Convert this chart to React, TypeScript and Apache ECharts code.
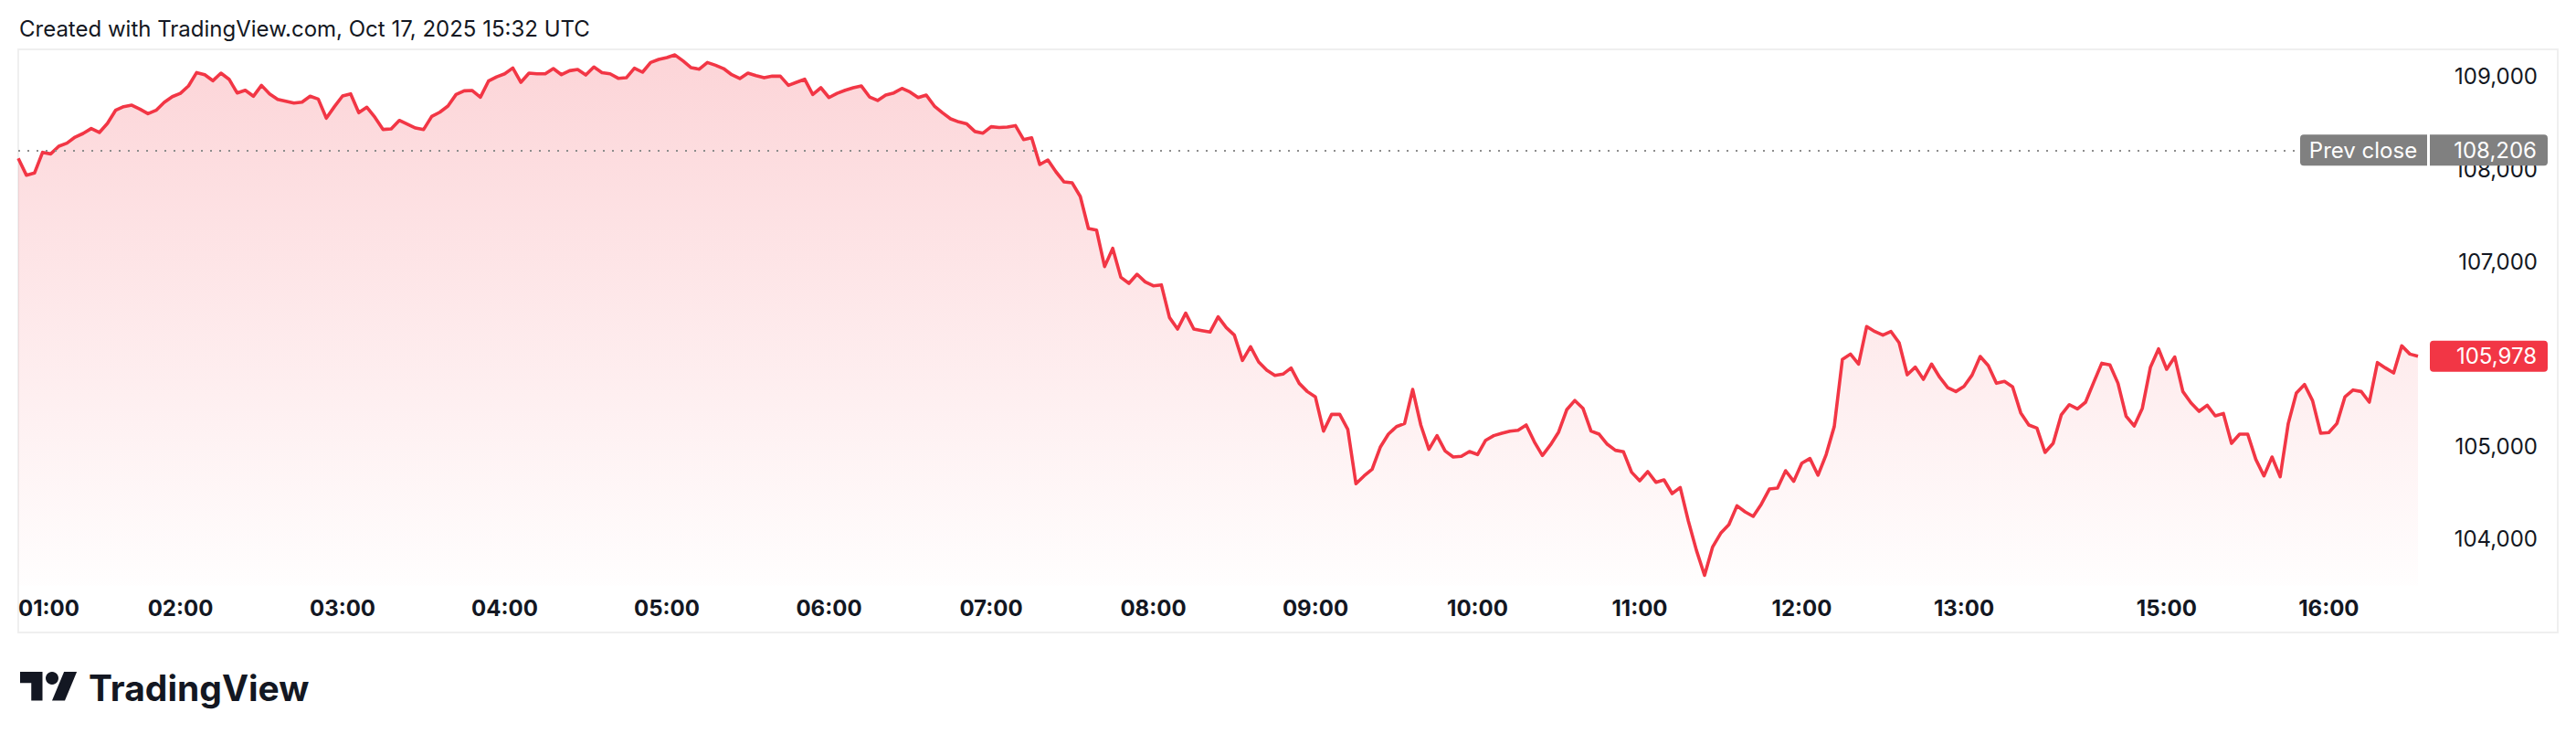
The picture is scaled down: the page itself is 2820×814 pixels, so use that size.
import React, { useEffect, useRef } from "react";
import * as echarts from "echarts";

// Session segments: [start time, number of 3-minute points]
const TIME_SEGMENTS: [string, number][] = [
  ["01:00", 260],
  ["14:45", 37],
];
const STEP_MINUTES = 3;

const TICK_LABELS = [
  "01:00", "02:00", "03:00", "04:00", "05:00", "06:00", "07:00", "08:00",
  "09:00", "10:00", "11:00", "12:00", "13:00", "15:00", "16:00",
];

const PRICES = [
  108117, 107936, 107959, 108183, 108166, 108249, 108282, 108347, 108387, 108440,
  108397, 108496, 108637, 108677, 108693, 108650, 108601, 108637, 108723, 108785,
  108821, 108901, 109045, 109022, 108957, 109039, 108973, 108825, 108854, 108789,
  108907, 108815, 108756, 108736, 108716, 108726, 108789, 108759, 108552, 108677,
  108792, 108815, 108611, 108670, 108561, 108430, 108436, 108528, 108486, 108446,
  108430, 108571, 108617, 108683, 108808, 108848, 108851, 108779, 108953, 108999,
  109032, 109095, 108940, 109039, 109032, 109032, 109088, 109022, 109065, 109078,
  109019, 109105, 109045, 109032, 108983, 108989, 109092, 109049, 109154, 109187,
  109207, 109236, 109171, 109098, 109082, 109154, 109124, 109088, 109022, 108980,
  109039, 109012, 108989, 109006, 109006, 108907, 108940, 108973, 108808, 108881,
  108775, 108821, 108854, 108881, 108900, 108782, 108743, 108802, 108825, 108874,
  108835, 108775, 108802, 108683, 108611, 108545, 108512, 108490, 108408, 108390,
  108460, 108452, 108456, 108472, 108321, 108340, 108051, 108100, 107972, 107863,
  107853, 107705, 107359, 107343, 106948, 107145, 106832, 106766, 106865, 106783,
  106740, 106750, 106397, 106272, 106444, 106272, 106256, 106240, 106404, 106289,
  106207, 105933, 106081, 105917, 105828, 105772, 105785, 105851, 105686, 105597,
  105538, 105169, 105350, 105350, 105186, 104600, 104685, 104758, 104995, 105136,
  105218, 105251, 105620, 105235, 104972, 105120, 104955, 104889, 104896, 104949,
  104916, 105070, 105120, 105146, 105169, 105179, 105235, 105054, 104906, 105021,
  105159, 105400, 105500, 105416, 105169, 105136, 105027, 104962, 104945, 104725,
  104632, 104731, 104616, 104642, 104494, 104560, 104198, 103880, 103610, 103918,
  104066, 104158, 104362, 104296, 104247, 104379, 104543, 104553, 104741, 104626,
  104823, 104873, 104692, 104916, 105219, 105943, 106002, 105894, 106300, 106246,
  106206, 106246, 106124, 105778, 105861, 105729, 105894, 105752, 105640, 105597,
  105653, 105775, 105976, 105877, 105686, 105706, 105647, 105367, 105235, 105202,
  104939, 105037, 105344, 105455, 105409, 105482, 105696, 105903, 105884, 105686,
  105330, 105225, 105416, 105861, 106058, 105838, 105970, 105597, 105475, 105383,
  105449, 105334, 105360, 105037, 105136, 105136, 104863, 104685, 104889, 104675,
  105251, 105581, 105673, 105498, 105146, 105153, 105251, 105541, 105614, 105597,
  105482, 105910, 105851, 105798, 106091, 106002, 105978,
];

const PREV_CLOSE = 108206;
const LAST_PRICE = 105978;
const Y_MIN = 103500;
const Y_MAX = 109300;
const Y_STEP = 500;
const Y_LABEL_STEP = 1000;

const TITLE = "Created with TradingView.com, Oct 17, 2025 15:32 UTC";

function buildCategories(): string[] {
  const out: string[] = [];
  for (const [start, count] of TIME_SEGMENTS) {
    const [h, m] = start.split(":").map(Number);
    let t = h * 60 + m;
    for (let k = 0; k < count; k++) {
      const hh = Math.floor(t / 60);
      const mm = t % 60;
      out.push(String(hh).padStart(2, "0") + ":" + String(mm).padStart(2, "0"));
      t += STEP_MINUTES;
    }
  }
  return out;
}

const FONT = "Inter, 'Noto Sans', Roboto, sans-serif";
const RED = "#F23645";
const TEXT = "#131722";
const GRAY = "#808080";

export default function App() {
  const ref = useRef<HTMLDivElement>(null);

  useEffect(() => {
    if (!ref.current) return;
    const chart = echarts.init(ref.current, undefined, { renderer: "svg" });
    const categories = buildCategories();
    const tickSet = new Set(TICK_LABELS);

    chart.setOption({
      animation: false,
      backgroundColor: "#ffffff",
      grid: { left: 20, right: 173, top: 53.6, bottom: 173.4, containLabel: false },
      xAxis: {
        type: "category",
        data: categories,
        boundaryGap: false,
        axisLine: { show: false },
        axisTick: { show: false },
        splitLine: { show: false },
        axisLabel: {
          interval: (_i: number, v: string) => tickSet.has(v),
          color: TEXT,
          fontSize: 24,
          fontWeight: "bold",
          fontFamily: FONT,
          margin: 13,
          alignMinLabel: "left",
        },
      },
      yAxis: {
        type: "value",
        position: "right",
        min: Y_MIN,
        max: Y_MAX,
        interval: Y_STEP,
        splitLine: { show: false },
        axisLine: { show: false },
        axisTick: { show: false },
        axisLabel: {
          showMaxLabel: false,
          showMinLabel: false,
          color: TEXT,
          fontSize: 24,
          fontFamily: FONT,
          align: "right",
          margin: 131,
          formatter: (v: number) =>
            v % Y_LABEL_STEP === 0 ? v.toLocaleString("en-US") : "",
        },
      },
      series: [
        {
          type: "line",
          data: PRICES,
          symbol: "none",
          lineStyle: { color: RED, width: 3.6, join: "round" },
          itemStyle: { color: RED },
          areaStyle: {
            color: new echarts.graphic.LinearGradient(0, 0, 0, 1, [
              { offset: 0, color: "rgba(242,54,69,0.30)" },
              { offset: 1, color: "rgba(242,54,69,0.01)" },
            ]),
          },
          markLine: {
            silent: true,
            symbol: ["none", "none"],
            label: { show: false },
            lineStyle: { color: "#8c8c8c", type: [2, 8], width: 2 },
            data: [{ yAxis: PREV_CLOSE }],
          },
        },
      ],
    });

    const yPrev = chart.convertToPixel({ yAxisIndex: 0 }, PREV_CLOSE) as number;
    const yLast = chart.convertToPixel({ yAxisIndex: 0 }, LAST_PRICE) as number;
    const boxH = 34;

    chart.setOption({
      graphic: [
        {
          type: "rect",
          z: -10,
          shape: { x: 20, y: 54, width: 2780, height: 638 },
          style: { fill: "none", stroke: "#efefef", lineWidth: 2 },
        },
        {
          type: "text",
          z: 100,
          x: 21,
          y: 31,
          style: {
            text: TITLE,
            fill: TEXT,
            fontSize: 24,
            fontFamily: FONT,
            align: "left",
            verticalAlign: "middle",
            textAlign: "left",
            textVerticalAlign: "middle",
          },
        },
        {
          type: "rect",
          z: 100,
          shape: { x: 2518, y: yPrev - boxH / 2, width: 139, height: boxH, r: [4, 0, 0, 4] },
          style: { fill: GRAY },
        },
        {
          type: "text",
          z: 101,
          x: 2587,
          y: yPrev,
          style: {
            text: "Prev close",
            fill: "#ffffff",
            fontSize: 24,
            fontFamily: FONT,
            align: "center",
            verticalAlign: "middle",
            textAlign: "center",
            textVerticalAlign: "middle",
          },
        },
        {
          type: "rect",
          z: 100,
          shape: { x: 2660, y: yPrev - boxH / 2, width: 129, height: boxH, r: [0, 4, 4, 0] },
          style: { fill: GRAY },
        },
        {
          type: "text",
          z: 101,
          x: 2777,
          y: yPrev,
          style: {
            text: PREV_CLOSE.toLocaleString("en-US"),
            fill: "#ffffff",
            fontSize: 24,
            fontFamily: FONT,
            align: "right",
            verticalAlign: "middle",
            textAlign: "right",
            textVerticalAlign: "middle",
          },
        },
        {
          type: "rect",
          z: 100,
          shape: { x: 2660, y: yLast - boxH / 2, width: 129, height: boxH, r: 4 },
          style: { fill: RED },
        },
        {
          type: "text",
          z: 101,
          x: 2777,
          y: yLast,
          style: {
            text: LAST_PRICE.toLocaleString("en-US"),
            fill: "#ffffff",
            fontSize: 24,
            fontFamily: FONT,
            align: "right",
            verticalAlign: "middle",
            textAlign: "right",
            textVerticalAlign: "middle",
          },
        },
        {
          type: "group",
          z: 100,
          x: 22,
          y: 728,
          scaleX: 1.75,
          scaleY: 1.75,
          children: [
            {
              type: "polygon",
              shape: { points: [[14, 22], [7, 22], [7, 11], [0, 11], [0, 4], [14, 4]] },
              style: { fill: TEXT },
            },
            {
              type: "polygon",
              shape: { points: [[28, 22], [20, 22], [27.5, 4], [35.5, 4]] },
              style: { fill: TEXT },
            },
            {
              type: "circle",
              shape: { cx: 20, cy: 8, r: 4 },
              style: { fill: TEXT },
            },
          ],
        },
        {
          type: "text",
          z: 100,
          x: 97,
          y: 752,
          style: {
            text: "TradingView",
            fill: TEXT,
            fontSize: 39,
            fontWeight: "bold",
            fontFamily: FONT,
            align: "left",
            verticalAlign: "middle",
            textAlign: "left",
            textVerticalAlign: "middle",
          },
        },
      ],
    });

    return () => chart.dispose();
  }, []);

  return (
    <div
      ref={ref}
      style={{
        position: "fixed",
        left: 0,
        top: 0,
        width: 2820,
        height: 814,
        background: "#ffffff",
      }}
    />
  );
}
